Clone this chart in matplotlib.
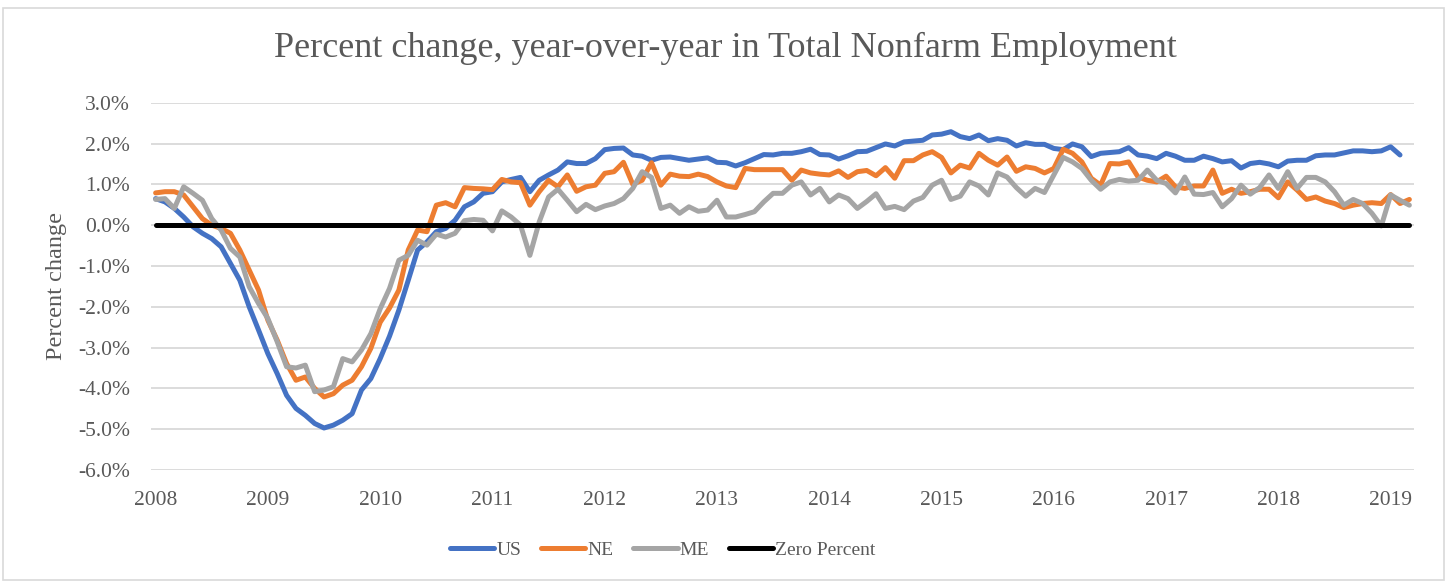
import numpy as np
import matplotlib
matplotlib.use("Agg")
import matplotlib.pyplot as plt
from matplotlib.patches import Rectangle

# monthly, Jan 2008 onward (percent change y/y)
us = [0.65, 0.57, 0.41, 0.20, -0.04, -0.20, -0.33, -0.53, -0.94, -1.35,
      -2.00, -2.57, -3.15, -3.64, -4.17, -4.49, -4.66, -4.86, -4.97, -4.90,
      -4.78, -4.62, -4.04, -3.76, -3.27, -2.72, -2.08, -1.35, -0.61, -0.41,
      -0.16, -0.08, 0.12, 0.45, 0.57, 0.78, 0.82, 1.06, 1.12, 1.17,
      0.82, 1.10, 1.23, 1.35, 1.55, 1.51, 1.51, 1.63, 1.85, 1.88,
      1.89, 1.72, 1.69, 1.59, 1.66, 1.67, 1.63, 1.59, 1.62, 1.65,
      1.54, 1.53, 1.45, 1.53, 1.63, 1.73, 1.72, 1.76, 1.76, 1.80,
      1.86, 1.73, 1.72, 1.62, 1.70, 1.80, 1.81, 1.90, 1.99, 1.94,
      2.04, 2.06, 2.08, 2.21, 2.23, 2.29, 2.17, 2.12, 2.21, 2.07,
      2.12, 2.08, 1.94, 2.02, 1.98, 1.98, 1.88, 1.85, 1.99, 1.92,
      1.68, 1.76, 1.78, 1.80, 1.90, 1.72, 1.69, 1.63, 1.76, 1.69,
      1.59, 1.59, 1.69, 1.63, 1.55, 1.58, 1.40, 1.51, 1.54, 1.50,
      1.43, 1.57, 1.59, 1.59, 1.70, 1.72, 1.72, 1.77, 1.82, 1.82,
      1.80, 1.82, 1.92, 1.72]

ne = [0.79, 0.82, 0.82, 0.74, 0.45, 0.16, 0.00, -0.08, -0.20, -0.61,
      -1.10, -1.59, -2.33, -2.82, -3.39, -3.80, -3.72, -4.00, -4.21, -4.13,
      -3.92, -3.80, -3.47, -3.02, -2.38, -2.03, -1.59, -0.61, -0.12, -0.16,
      0.49, 0.55, 0.45, 0.92, 0.90, 0.89, 0.87, 1.12, 1.06, 1.04,
      0.49, 0.82, 1.10, 0.94, 1.23, 0.83, 0.94, 0.98, 1.27, 1.31,
      1.54, 1.00, 1.10, 1.53, 0.98, 1.25, 1.20, 1.19, 1.25, 1.19,
      1.06, 0.96, 0.92, 1.39, 1.36, 1.36, 1.36, 1.36, 1.10, 1.35,
      1.28, 1.25, 1.23, 1.33, 1.17, 1.31, 1.34, 1.21, 1.41, 1.15,
      1.58, 1.58, 1.72, 1.80, 1.66, 1.28, 1.47, 1.40, 1.76, 1.59,
      1.47, 1.67, 1.32, 1.43, 1.39, 1.28, 1.39, 1.86, 1.76, 1.55,
      1.15, 0.98, 1.51, 1.50, 1.55, 1.18, 1.10, 1.06, 1.20, 0.94,
      0.90, 0.96, 0.96, 1.35, 0.78, 0.88, 0.78, 0.82, 0.88, 0.88,
      0.67, 1.06, 0.86, 0.63, 0.69, 0.59, 0.53, 0.43, 0.49, 0.53,
      0.55, 0.53, 0.75, 0.53, 0.63]

me = [0.63, 0.65, 0.41, 0.94, 0.78, 0.61, 0.16, -0.12, -0.57, -0.78,
      -1.51, -1.92, -2.29, -2.86, -3.47, -3.50, -3.43, -4.08, -4.04, -3.96,
      -3.27, -3.35, -3.06, -2.66, -2.05, -1.55, -0.86, -0.74, -0.37, -0.49,
      -0.22, -0.29, -0.20, 0.11, 0.14, 0.12, -0.14, 0.35, 0.20, 0.00,
      -0.74, 0.08, 0.69, 0.88, 0.61, 0.33, 0.51, 0.38, 0.47, 0.53,
      0.65, 0.90, 1.31, 1.17, 0.41, 0.49, 0.29, 0.45, 0.34, 0.37,
      0.61, 0.20, 0.20, 0.26, 0.33, 0.57, 0.78, 0.78, 0.98, 1.06,
      0.74, 0.90, 0.57, 0.74, 0.65, 0.41, 0.58, 0.77, 0.41, 0.46,
      0.38, 0.59, 0.68, 0.98, 1.10, 0.63, 0.71, 1.06, 0.96, 0.74,
      1.28, 1.18, 0.92, 0.71, 0.90, 0.80, 1.23, 1.66, 1.55, 1.39,
      1.10, 0.88, 1.06, 1.12, 1.08, 1.10, 1.35, 1.10, 1.02, 0.79,
      1.18, 0.76, 0.75, 0.80, 0.45, 0.65, 0.98, 0.76, 0.92, 1.23,
      0.90, 1.31, 0.90, 1.17, 1.17, 1.06, 0.82, 0.49, 0.63, 0.53,
      0.29, -0.02, 0.74, 0.61, 0.49]

zero = [0.0] * len(ne)

years = ["2008", "2009", "2010", "2011", "2012", "2013", "2014",
         "2015", "2016", "2017", "2018", "2019"]
yticks = [3, 2, 1, 0, -1, -2, -3, -4, -5, -6]

serif = ["Liberation Serif", "DejaVu Serif"]
txt_color = "#595959"

fig = plt.figure(figsize=(14.5, 5.82), dpi=100)
ax = fig.add_axes([0.1041, 0.1924, 0.8711, 0.6311])

# chart border
fig.patches.append(Rectangle((0.002, 0.003), 0.994, 0.984, transform=fig.transFigure,
                             fill=False, edgecolor="#D9D9D9", linewidth=1.2))

series = [("US", us, "#4472C4"), ("NE", ne, "#ED7D31"),
          ("ME", me, "#A5A5A5"), ("Zero Percent", zero, "#000000")]
for name, vals, col in series:
    ax.plot(np.arange(len(vals)), vals, color=col, lw=3.6, label=name,
            solid_joinstyle="round", solid_capstyle="round")

ax.set_xlim(-0.5, 134.5)
ax.set_ylim(-6, 3)
ax.set_yticks(yticks)
ax.set_yticklabels(["%.1f%%" % v for v in yticks], family=serif,
                   fontsize=15.5, color=txt_color)
ax.set_xticks(np.arange(len(years)) * 12)
ax.set_xticklabels(years, family=serif, fontsize=15.5, color=txt_color)
ax.tick_params(axis="y", length=0, pad=15)
ax.tick_params(axis="x", length=0, pad=15)
ax.grid(axis="y", color="#D9D9D9", lw=1.3)
ax.set_axisbelow(True)
for s in ax.spines.values():
    s.set_visible(False)

ax.set_ylabel("Percent change", family=serif, fontsize=17.5, color=txt_color,
              labelpad=8)
fig.text(0.5, 0.916, "Percent change, year-over-year in Total Nonfarm Employment",
         ha="center", va="center", family=serif, fontsize=26, color=txt_color)

leg = fig.legend(loc="center", bbox_to_anchor=(0.457, 0.055), ncol=4,
                 frameon=False, handlelength=2.3, handletextpad=0.1,
                 columnspacing=1.0, prop={"family": serif, "size": 14})
for t in leg.get_texts():
    t.set_color(txt_color)

fig.savefig("out.png", dpi=100)
